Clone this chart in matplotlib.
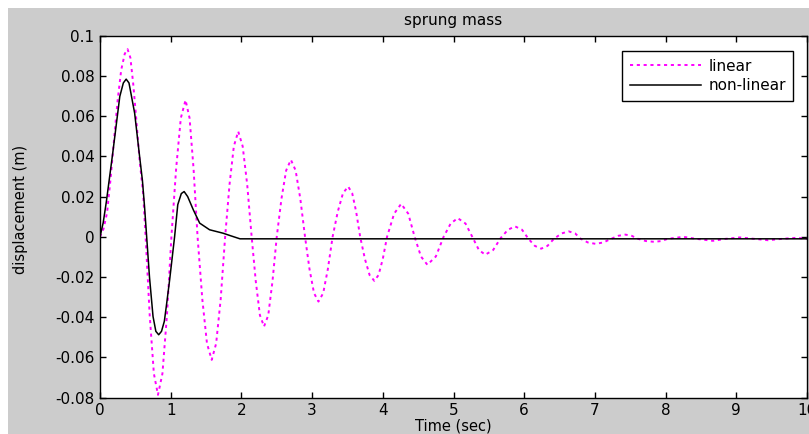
import matplotlib
matplotlib.use("Agg")
import matplotlib.pyplot as plt
from matplotlib.patches import Rectangle

plt.rcParams['font.family'] = ['DejaVu Sans']

# linear response
t_lin = [0.00, 0.05, 0.10, 0.15, 0.20, 0.25, 0.30, 0.35, 0.39, 0.43, 0.47, 0.51, 0.56, 0.61, 0.645,
         0.703, 0.762, 0.82, 0.883, 0.947, 1.01,
         1.077, 1.143, 1.21, 1.267, 1.323, 1.38,
         1.447, 1.513, 1.58, 1.643, 1.707, 1.77,
         1.832, 1.893, 1.955, 2.018, 2.082, 2.145,
         2.203, 2.262, 2.32, 2.38, 2.44, 2.50,
         2.567, 2.633, 2.70, 2.767, 2.833, 2.90,
         2.963, 3.027, 3.09, 3.157, 3.223, 3.29,
         3.363, 3.437, 3.51, 3.567, 3.623, 3.68,
         3.747, 3.813, 3.88, 3.94, 4.00, 4.06,
         4.16, 4.26, 4.36, 4.45,
         4.54, 4.63, 4.75, 4.86,
         4.96, 5.06, 5.17, 5.27,
         5.36, 5.45, 5.56, 5.67,
         5.77, 5.87, 5.97, 6.06,
         6.15, 6.24, 6.33, 6.42,
         6.53, 6.63, 6.72, 6.80,
         6.90, 7.01, 7.12, 7.23,
         7.33, 7.43, 7.52, 7.61,
         7.72, 7.84, 7.94, 8.03,
         8.25, 8.43, 8.67, 8.85, 9.05, 9.25, 9.45, 9.65, 9.85, 10.0]
y_lin = [0.0, 0.004, 0.012, 0.029, 0.049, 0.068, 0.083, 0.091, 0.0933, 0.089, 0.076, 0.0598, 0.038, 0.0217, 0.0,
         -0.039, -0.068, -0.0786, -0.068, -0.039, 0.0,
         0.034, 0.059, 0.068, 0.059, 0.034, 0.0,
         -0.031, -0.053, -0.0612, -0.053, -0.031, 0.0,
         0.026, 0.045, 0.0524, 0.045, 0.026, 0.0,
         -0.022, -0.039, -0.0446, -0.039, -0.022, 0.0,
         0.019, 0.033, 0.0383, 0.033, 0.019, 0.0,
         -0.016, -0.028, -0.0322, -0.028, -0.016, 0.0,
         0.0125, 0.0217, 0.025, 0.0217, 0.0125, 0.0,
         -0.011, -0.019, -0.0219, -0.019, -0.011, 0.0,
         0.0115, 0.0164, 0.0115, 0.0,
         -0.0098, -0.0139, -0.0098, 0.0,
         0.0066, 0.0093, 0.0066, -0.0003,
         -0.0066, -0.0089, -0.0066, -0.0005,
         0.0035, 0.0052, 0.0035, -0.001,
         -0.0045, -0.0059, -0.0045, -0.001,
         0.0017, 0.0027, 0.0017, -0.001,
         -0.0028, -0.0035, -0.0028, -0.001,
         0.0005, 0.0011, 0.0005, -0.001,
         -0.0021, -0.0025, -0.0021, -0.001,
         0.0, -0.001, -0.002, -0.001, -0.0003, -0.001, -0.0017, -0.001, -0.0005, -0.001]

# non-linear response
t_nl = [0.0, 0.045, 0.09, 0.18, 0.28, 0.33, 0.37, 0.41, 0.49, 0.56, 0.60, 0.63, 0.66, 0.70, 0.75, 0.79,
        0.83, 0.87, 0.91, 0.94, 0.985, 1.055, 1.10, 1.15, 1.19, 1.24, 1.32, 1.41, 1.55, 1.74, 1.85, 1.98, 10.0]
y_nl = [0.0, 0.007, 0.0175, 0.0416, 0.0698, 0.0765, 0.0784, 0.0765, 0.0615, 0.040, 0.028, 0.015, 0.0, -0.020, -0.0396, -0.047,
        -0.0487, -0.047, -0.042, -0.034, -0.0214, 0.0, 0.016, 0.0215, 0.0225, 0.020, 0.0134, 0.0068, 0.0035, 0.0018, 0.0005, -0.001, -0.001]

x_ticks = list(range(0, 11))
y_ticks = [-0.08, -0.06, -0.04, -0.02, 0, 0.02, 0.04, 0.06, 0.08, 0.1]
y_labels = ['-0.08', '-0.06', '-0.04', '-0.02', '0', '0.02', '0.04', '0.06', '0.08', '0.1']

fig = plt.figure(figsize=(8.09, 4.34), dpi=100, facecolor='white')
fig.patches.append(Rectangle((8 / 809, 0), 1, (434 - 8) / 434, transform=fig.transFigure,
                             facecolor='#cccccc', edgecolor='none', zorder=-10))

ax = fig.add_axes([100 / 809, (434 - 397.7) / 434, 707 / 809, 362 / 434])
ax.plot(t_lin, y_lin, color='#ff00ff', linestyle=(0, (1.6, 1.9)), linewidth=1.4, label='linear')
ax.plot(t_nl, y_nl, color='black', linewidth=1.1, label='non-linear')

ax.set_xlim(0, 10)
ax.set_ylim(-0.08, 0.1)
ax.set_xticks(x_ticks)
ax.set_yticks(y_ticks)
ax.set_yticklabels(y_labels)
ax.tick_params(direction='in', length=4, width=1, top=True, right=True, labelsize=11, pad=4)
for s in ax.spines.values():
    s.set_linewidth(1)

ax.set_title('sprung mass', fontsize=11, pad=8)
ax.set_xlabel('Time (sec)', fontsize=10.5, labelpad=0)
ax.set_ylabel('displacement (m)', fontsize=10.5)
ax.yaxis.set_label_coords(-0.102, 0.52)

leg = ax.legend(loc='upper right', bbox_to_anchor=(0.9915, 0.979), fontsize=11, fancybox=False,
                edgecolor='black', framealpha=1, handlelength=4.7, handletextpad=0.45,
                labelspacing=0.3, borderpad=0.5)
leg.get_frame().set_linewidth(1)

fig.savefig('out.png', dpi=100, facecolor=fig.get_facecolor())
